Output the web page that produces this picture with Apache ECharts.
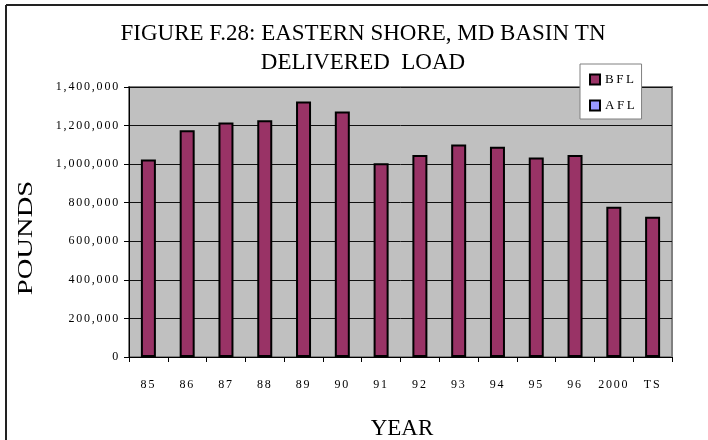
<!DOCTYPE html>
<html>
<head>
<meta charset="utf-8">
<script src="https://cdn.jsdelivr.net/npm/echarts@6/dist/echarts.min.js"></script>
<style>
  html, body { margin: 0; padding: 0; background: #fff; }
  #chart { width: 708px; height: 440px; }
</style>
</head>
<body>
<div id="chart"></div>
<script>
// ---- data ----
const categories = ['85', '86', '87', '88', '89', '90', '91', '92', '93', '94', '95', '96', '2000', 'TS'];
const bflValues = [1024000, 1176000, 1216000, 1228000, 1325000, 1273000, 1005000, 1047000, 1102000, 1090000, 1035000, 1047000, 779000, 727000];
const aflValues = [];
const seriesNames = ['BFL', 'AFL'];
const titleLines = ['FIGURE F.28: EASTERN SHORE, MD BASIN TN', 'DELIVERED  LOAD'];
const xAxisTitle = 'YEAR';
const yAxisTitle = 'POUNDS';
const yMin = 0, yMax = 1400000, yStep = 200000;

// small text in the original is letter-spaced (spacing chosen by font size)
const spacingBySize = { '12': '1.8px', '13': '2.6px' };
const origFill = CanvasRenderingContext2D.prototype.fillText;
CanvasRenderingContext2D.prototype.fillText = function () {
  const m = /(\d+(?:\.\d+)?)px/.exec(this.font || '');
  const prev = this.letterSpacing;
  const sp = m ? spacingBySize[String(parseFloat(m[1]))] : null;
  if (sp) this.letterSpacing = sp;
  const r = origFill.apply(this, arguments);
  this.letterSpacing = prev;
  return r;
};

const FONT = 'Liberation Serif, Times New Roman, serif';
const chart = echarts.init(document.getElementById('chart'), null, { renderer: 'canvas' });

chart.setOption({
  animation: false,
  backgroundColor: '#ffffff',
  grid: {
    left: 129, right: 36, top: 87, bottom: 83,
    show: true, backgroundColor: '#C0C0C0', borderColor: '#808080', borderWidth: 2
  },
  legend: {
    orient: 'vertical',
    left: 580, top: 64,
    padding: [9, 12, 7, 9],
    itemWidth: 10, itemHeight: 10, itemGap: 13,
    backgroundColor: '#ffffff', borderColor: '#808080', borderWidth: 1,
    borderRadius: 0,
    textStyle: { fontFamily: FONT, fontSize: 13, color: '#000' },
    data: seriesNames.map(n => ({ name: n, icon: 'rect' }))
  },
  xAxis: {
    type: 'category',
    data: categories,
    axisLine: { show: true, lineStyle: { color: '#000', width: 1 } },
    axisTick: { show: true, length: 5, interval: 0, lineStyle: { color: '#000' } },
    axisLabel: { interval: 0, margin: 22, fontFamily: FONT, fontSize: 12, color: '#000' },
    splitLine: { show: false }
  },
  yAxis: {
    type: 'value',
    min: yMin, max: yMax, interval: yStep,
    axisLine: { show: true, lineStyle: { color: '#000', width: 1 } },
    axisTick: { show: true, length: 5, lineStyle: { color: '#000' } },
    axisLabel: {
      margin: 9, fontFamily: FONT, fontSize: 12, color: '#000',
      formatter: v => v.toLocaleString('en-US')
    },
    splitLine: { show: true, lineStyle: { color: '#111', width: 1 } }
  },
  series: [
    {
      name: seriesNames[0], type: 'bar', data: bflValues,
      barWidth: 15, barGap: '-100%',
      itemStyle: { color: '#993366', borderColor: '#000', borderWidth: 2 }
    },
    {
      name: seriesNames[1], type: 'bar', data: aflValues,
      barWidth: 15, barGap: '-100%',
      itemStyle: { color: '#9999FF', borderColor: '#000', borderWidth: 2 }
    }
  ],
  graphic: [
    { type: 'line', shape: { x1: 6, y1: 5, x2: 6, y2: 440 }, style: { stroke: '#222', lineWidth: 2 }, silent: true },
    { type: 'line', shape: { x1: 6, y1: 5, x2: 708, y2: 5 }, style: { stroke: '#222', lineWidth: 2 }, silent: true },
    { type: 'text', x: 363, y: 34, style: { text: titleLines[0], font: '23px ' + FONT, fill: '#000', align: 'center', verticalAlign: 'middle' } },
    { type: 'text', x: 363, y: 63, style: { text: titleLines[1], font: '23px ' + FONT, fill: '#000', align: 'center', verticalAlign: 'middle' } },
    { type: 'text', x: 402, y: 429, style: { text: xAxisTitle, font: '23px ' + FONT, fill: '#000', align: 'center', verticalAlign: 'middle' } },
    { type: 'text', x: 26, y: 238, rotation: Math.PI / 2, scaleX: 1.3, style: { text: yAxisTitle, font: '22px ' + FONT, fill: '#000', align: 'center', verticalAlign: 'middle' } }
  ]
});
</script>
</body>
</html>
